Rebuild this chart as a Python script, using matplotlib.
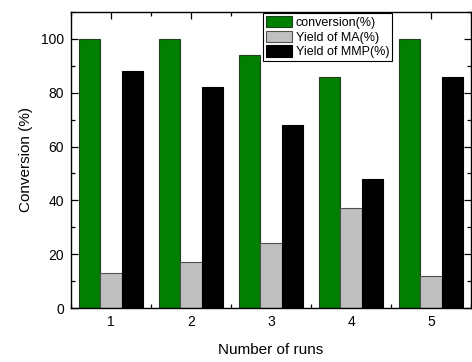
import numpy as np
import matplotlib
matplotlib.use("Agg")
import matplotlib.pyplot as plt
from matplotlib.ticker import MultipleLocator

plt.rcParams['font.family'] = ['Liberation Sans', 'DejaVu Sans']

runs = [1, 2, 3, 4, 5]
conversion = [100, 100, 94, 86, 100]
yield_ma = [13, 17, 24, 37, 12]
yield_mmp = [88, 82, 68, 48, 86]

labels = ["conversion(%)", "Yield of MA(%)", "Yield of MMP(%)"]
colors = ["#007f00", "#c0c0c0", "#000000"]
edges = ["#1f3f1f", "#505050", "#000000"]

fig = plt.figure(figsize=(4.72, 3.62), dpi=100)
ax = fig.add_axes([71 / 472, 54 / 362, 400 / 472, 296 / 362])

x = np.array(runs, dtype=float)
w = 0.27
for i, (vals, lab) in enumerate(zip([conversion, yield_ma, yield_mmp], labels)):
    ax.bar(x + (i - 1) * w, vals, width=w, color=colors[i], edgecolor=edges[i],
           linewidth=0.8, label=lab, zorder=2)

ax.set_xlim(0.5, 5.5)
ax.set_ylim(0, 110)
ax.set_xticks(runs)
ax.xaxis.set_minor_locator(MultipleLocator(0.5))
ax.yaxis.set_major_locator(MultipleLocator(20))
ax.yaxis.set_minor_locator(MultipleLocator(10))
ax.tick_params(which='both', direction='in', top=True, right=True, labelsize=10, zorder=3)
ax.tick_params(which='major', length=5, width=0.9, pad=5)
ax.tick_params(which='minor', length=3, width=0.9)
for s in ax.spines.values():
    s.set_linewidth(1.0)
    s.set_zorder(4)

ax.set_xlabel("Number of runs", fontsize=11, labelpad=10)
ax.set_ylabel("Conversion (%)", fontsize=11, labelpad=6)

leg = ax.legend(loc='upper left', bbox_to_anchor=(0.48, 0.995), fontsize=9,
                frameon=True, fancybox=False, edgecolor='black', framealpha=1,
                borderpad=0.2, handlelength=2.1, handleheight=1.0,
                handletextpad=0.3, labelspacing=0.15, borderaxespad=0)
leg.get_frame().set_linewidth(0.8)

fig.savefig("out.png", dpi=100)
